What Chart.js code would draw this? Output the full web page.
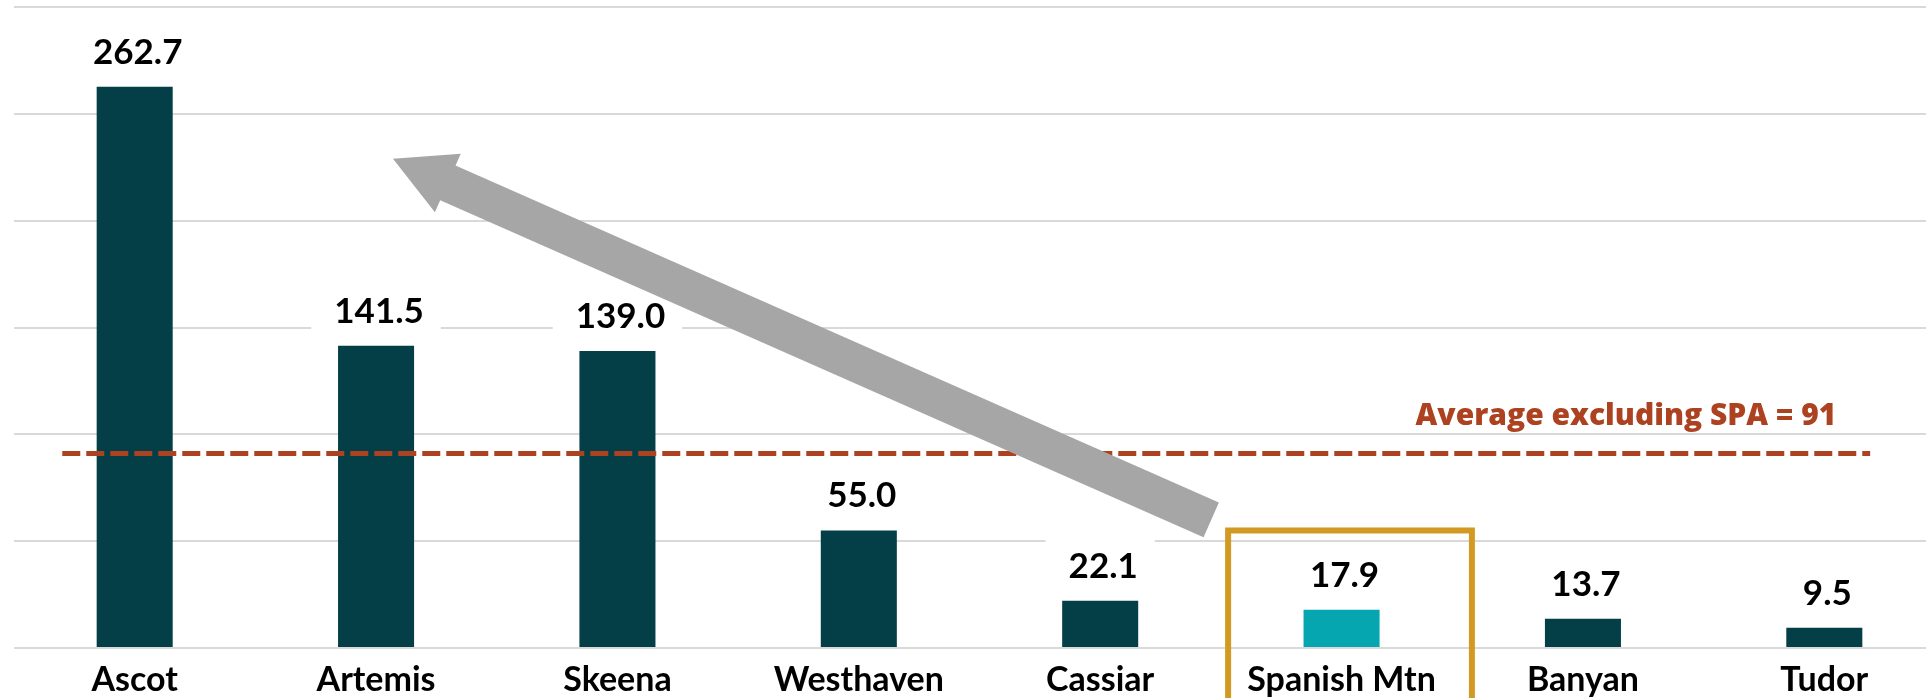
<!DOCTYPE html>
<html>
<head>
<meta charset="utf-8">
<script src="https://cdn.jsdelivr.net/npm/chart.js@4/dist/chart.umd.min.js"></script>
<style>
  html, body { margin: 0; padding: 0; background: #fff; overflow: hidden; }
  #wrap { position: absolute; left: 0; top: 0; width: 1946px; height: 698px; }
</style>
</head>
<body>
<div id="wrap"><canvas id="myChart" width="1946" height="698"></canvas></div>
<script>
const categories = ["Ascot", "Artemis", "Skeena", "Westhaven", "Cassiar", "Spanish Mtn", "Banyan", "Tudor"];
const values = [262.7, 141.5, 139.0, 55.0, 22.1, 17.9, 13.7, 9.5];
const highlighted = "Spanish Mtn";
const averageExclSPA = 91;
const averageLabel = "Average excluding SPA = 91";
const yMax = 300;
const yStep = 50;

// arrow from the highlighted project up toward the leaders (category index, value)
const arrowFrom = {x: 4.46, y: 60};
const arrowTo = {x: 1.07, y: 229};

const barColors = categories.map(c => c === highlighted ? "#06A6B1" : "#043E47");

const overlay = {
  id: "overlay",
  afterDatasetsDraw(chart) {
    const {ctx, scales: {x, y}} = chart;
    const meta = chart.getDatasetMeta(0);
    ctx.save();

    // value labels with white boxes
    ctx.font = "bold 35px Lato";
    ctx.textAlign = "center";
    ctx.textBaseline = "alphabetic";
    meta.data.forEach((bar, i) => {
      const txt = values[i].toFixed(1);
      const w = ctx.measureText(txt).width;
      const base = bar.y - 23;
      ctx.fillStyle = "#fff";
      ctx.fillRect(bar.x - w / 2 - 20, base - 42, w + 40, 52);
      ctx.fillStyle = "#000";
      ctx.fillText(txt, bar.x + 3, base);
    });

    // average line
    const ay = y.getPixelForValue(averageExclSPA);
    ctx.strokeStyle = "#AD4220";
    ctx.lineWidth = 5;
    ctx.setLineDash([18, 6]);
    ctx.beginPath();
    ctx.moveTo(x.getPixelForValue(-0.30), ay);
    ctx.lineTo(x.getPixelForValue(7.19), ay);
    ctx.stroke();
    ctx.setLineDash([]);

    ctx.font = "800 30px 'Open Sans'";
    ctx.textAlign = "right";
    ctx.fillStyle = "#AD4220";
    ctx.fillText(averageLabel, x.getPixelForValue(7.05), ay - 29);

    // grey arrow
    const t0 = {x: x.getPixelForValue(arrowFrom.x), y: y.getPixelForValue(arrowFrom.y)};
    const t1 = {x: x.getPixelForValue(arrowTo.x), y: y.getPixelForValue(arrowTo.y)};
    const dx = t1.x - t0.x, dy = t1.y - t0.y;
    const len = Math.hypot(dx, dy);
    const ux = dx / len, uy = dy / len;
    const nx = -uy, ny = ux;
    const shaft = 19, head = 32, headLen = 60;
    const neck = {x: t1.x - ux * headLen, y: t1.y - uy * headLen};
    ctx.fillStyle = "#A6A6A6";
    ctx.beginPath();
    ctx.moveTo(t0.x + nx * shaft, t0.y + ny * shaft);
    ctx.lineTo(neck.x + nx * shaft, neck.y + ny * shaft);
    ctx.lineTo(neck.x + nx * head, neck.y + ny * head);
    ctx.lineTo(t1.x, t1.y);
    ctx.lineTo(neck.x - nx * head, neck.y - ny * head);
    ctx.lineTo(neck.x - nx * shaft, neck.y - ny * shaft);
    ctx.lineTo(t0.x - nx * shaft, t0.y - ny * shaft);
    ctx.closePath();
    ctx.fill();

    // highlight box round Spanish Mtn
    const hi = categories.indexOf(highlighted);
    const left = x.getPixelForValue(hi - 0.47);
    const right = x.getPixelForValue(hi + 0.54);
    const top = y.getPixelForValue(55);
    ctx.strokeStyle = "#D39A23";
    ctx.lineWidth = 6;
    ctx.strokeRect(left, top, right - left, chart.height + 20 - top);

    ctx.restore();
  }
};

const ctx = document.getElementById("myChart");

new Chart(ctx, {
  type: "bar",
  data: {
    labels: categories,
    datasets: [{
      data: values,
      backgroundColor: barColors,
      categoryPercentage: 1,
      barPercentage: 0.315
    }]
  },
  options: {
    responsive: false,
    animation: false,
    layout: {padding: {left: 14, right: 1, top: 7, bottom: 0}},
    plugins: {
      legend: {display: false},
      tooltip: {enabled: false}
    },
    scales: {
      x: {
        grid: {display: false},
        border: {display: false},
        ticks: {
          color: "#000",
          font: {family: "Lato", weight: "bold", size: 34},
          padding: 4,
          maxRotation: 0,
          autoSkip: false,
          showLabelBackdrop: true,
          backdropColor: "#fff",
          backdropPadding: {top: 10, bottom: 0, left: 19, right: 19}
        },
        afterFit(axis) { axis.height = 50; }
      },
      y: {
        min: 0,
        max: yMax,
        ticks: {stepSize: yStep, display: false},
        grid: {color: "#D9D9D9", lineWidth: 2, drawTicks: false},
        border: {display: false}
      }
    }
  },
  plugins: [overlay]
});
</script>
</body>
</html>
